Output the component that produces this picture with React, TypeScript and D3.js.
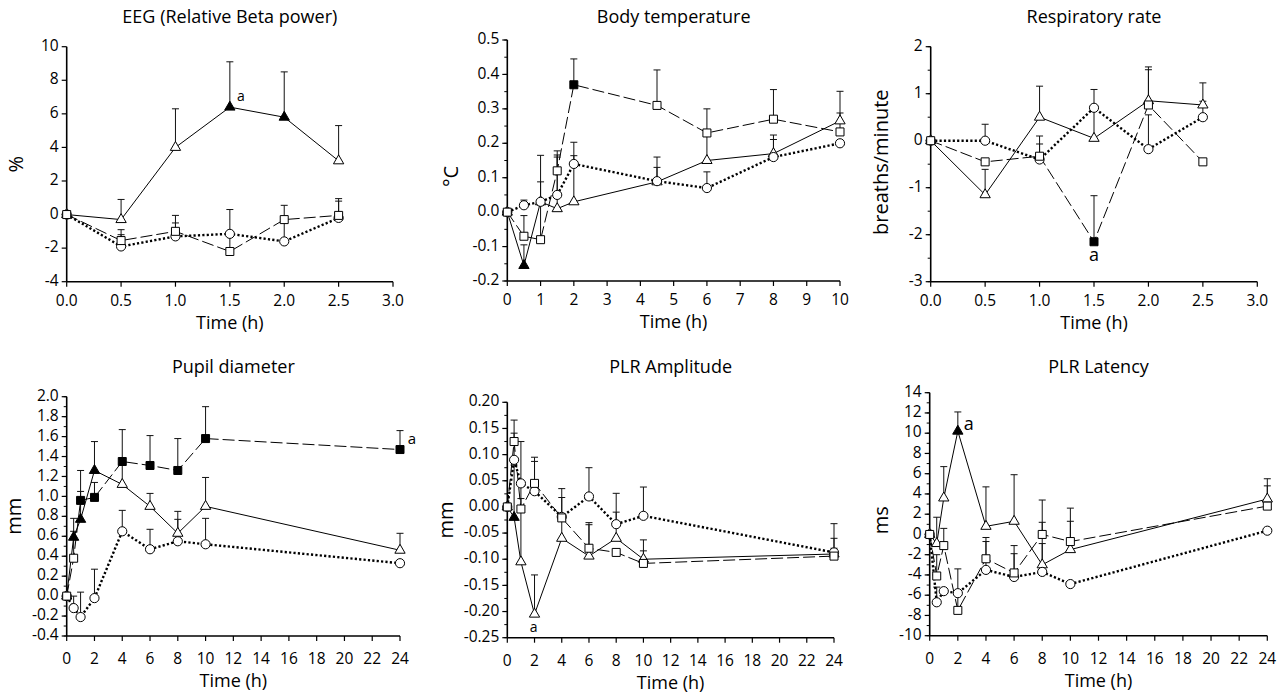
import React from "react";
import * as d3 from "d3";

const FONT = "'Open Sans', 'Noto Sans', sans-serif";

// time points (h)
const tShort = [0, 0.5, 1, 1.5, 2, 2.5];
const tTemp = [0, 0.5, 1, 1.5, 2, 4.5, 6, 8, 10];
const tLong = [0, 0.5, 1, 2, 4, 6, 8, 10, 24];

// EEG (Relative Beta power), %
const eegTri = [0, -0.3, 4.0, 6.4, 5.8, 3.2];
const eegTriErr = [0, 1.2, 2.3, 2.7, 2.7, 2.1];
const eegTriFill = [0, 0, 0, 1, 1, 0];
const eegSq = [0, -1.55, -1.0, -2.2, -0.3, -0.05];
const eegSqErr = [0, 0.65, 0.5, 1.1, 0.85, 1.0];
const eegSqFill = [0, 0, 0, 0, 0, 0];
const eegCirc = [0, -1.9, -1.3, -1.15, -1.6, -0.2];
const eegCircErr = [0, 0.7, 1.25, 1.45, 1.3, 1.0];
const eegCircFill = [0, 0, 0, 0, 0, 0];

// Body temperature, °C
const tempTri = [0, -0.155, 0.03, 0.01, 0.03, 0.088, 0.15, 0.17, 0.265];
const tempTriErr = [0, 0.06, 0.135, 0.15, 0.134, 0.072, 0.08, 0.054, 0.086];
const tempTriFill = [0, 1, 0, 0, 0, 0, 0, 0, 0];
const tempSq = [0, -0.07, -0.08, 0.12, 0.37, 0.31, 0.23, 0.27, 0.233];
const tempSqErr = [0, 0.06, 0.1, 0.058, 0.075, 0.103, 0.07, 0.086, 0.055];
const tempSqFill = [0, 0, 0, 0, 1, 0, 0, 0, 0];
const tempCirc = [0, 0.02, 0.03, 0.05, 0.14, 0.09, 0.07, 0.16, 0.2];
const tempCircErr = [0, 0.015, 0.058, 0.116, 0.063, 0.04, 0.047, 0.051, 0];
const tempCircFill = [0, 0, 0, 0, 0, 0, 0, 0, 0];

// Respiratory rate, breaths/minute
const respTri = [0, -1.15, 0.5, 0.05, 0.85, 0.76];
const respTriErr = [0, 0.54, 0.66, 0.6, 0.72, 0.08];
const respTriFill = [0, 0, 0, 0, 0, 0];
const respSq = [0, -0.45, -0.33, -2.15, 0.76, -0.45];
const respSqErr = [0, 0, 0.43, 0.98, 0.75, 0];
const respSqFill = [0, 0, 0, 1, 0, 0];
const respCirc = [0, 0, -0.4, 0.7, -0.18, 0.5];
const respCircErr = [0, 0.35, 0.33, 0.39, 0.73, 0.73];
const respCircFill = [0, 0, 0, 0, 0, 0];

// Pupil diameter, mm
const pupTri = [0, 0.59, 0.77, 1.26, 1.12, 0.9, 0.63, 0.9, 0.46];
const pupTriErr = [0, 0.19, 0.28, 0.29, 0.2, 0.13, 0.22, 0.29, 0.17];
const pupTriFill = [0, 1, 1, 1, 0, 0, 0, 0, 0];
const pupSq = [0, 0.38, 0.96, 0.99, 1.35, 1.31, 1.26, 1.58, 1.47];
const pupSqErr = [0, 0.27, 0.3, 0.15, 0.32, 0.3, 0.32, 0.32, 0.19];
const pupSqFill = [0, 0, 1, 1, 1, 1, 1, 1, 1];
const pupCirc = [0, -0.12, -0.21, -0.02, 0.65, 0.47, 0.55, 0.52, 0.33];
const pupCircErr = [0, 0.12, 0.25, 0.29, 0.21, 0.2, 0.22, 0.26, 0];
const pupCircFill = [0, 0, 0, 0, 0, 0, 0, 0, 0];

// PLR Amplitude, mm
const ampTri = [0, -0.02, -0.105, -0.205, -0.06, -0.094, -0.06, -0.1, -0.09];
const ampTriErr = [0, 0.1, 0.23, 0.075, 0.078, 0.06, 0.05, 0.037, 0.03];
const ampTriFill = [0, 1, 0, 0, 0, 0, 0, 0, 0];
const ampSq = [0, 0.125, -0.004, 0.045, -0.021, -0.079, -0.087, -0.108, -0.094];
const ampSqErr = [0, 0.041, 0.02, 0.05, 0.056, 0.049, 0, 0.024, 0.015];
const ampSqFill = [0, 0, 0, 0, 0, 0, 0, 0, 0];
const ampCirc = [0, 0.09, 0.045, 0.03, -0.019, 0.02, -0.033, -0.017, -0.087];
const ampCircErr = [0, 0.051, 0, 0.057, 0, 0.055, 0.059, 0.055, 0.055];
const ampCircFill = [0, 0, 0, 0, 0, 0, 0, 0, 0];

// PLR Latency, ms
const latTri = [0, -0.9, 3.6, 10.2, 0.8, 1.3, -3.0, -1.5, 3.5];
const latTriErr = [0, 2.6, 3.1, 1.9, 3.9, 4.6, 6.4, 4.1, 2.0];
const latTriFill = [0, 0, 0, 1, 0, 0, 0, 0, 0];
const latSq = [0, -4.1, -1.1, -7.5, -2.4, -3.8, 0, -0.7, 2.8];
const latSqErr = [0, 2.1, 1.7, 1.6, 2.1, 2.7, 1.2, 2.0, 2.0];
const latSqFill = [0, 0, 0, 0, 0, 0, 0, 0, 0];
const latCirc = [0, -6.7, -5.6, -5.8, -3.5, -4.2, -3.7, -4.9, 0.37];
const latCircErr = [0, 1.5, 0, 2.4, 2.8, 2.3, 2.8, 0, 0];
const latCircFill = [0, 0, 0, 0, 0, 0, 0, 0, 0];

// tick labels
const shortXTicks = [0, 0.5, 1, 1.5, 2, 2.5, 3];
const tempXTicks = [0, 1, 2, 3, 4, 5, 6, 7, 8, 9, 10];
const longXTicks = [0, 2, 4, 6, 8, 10, 12, 14, 16, 18, 20, 22, 24];
const eegYTicks = [-4, -2, 0, 2, 4, 6, 8, 10];
const tempYTicks = [-0.2, -0.1, 0, 0.1, 0.2, 0.3, 0.4, 0.5];
const respYTicks = [-3, -2, -1, 0, 1, 2];
const pupYTicks = [-0.4, -0.2, 0, 0.2, 0.4, 0.6, 0.8, 1, 1.2, 1.4, 1.6, 1.8, 2];
const ampYTicks = [-0.25, -0.2, -0.15, -0.1, -0.05, 0, 0.05, 0.1, 0.15, 0.2];
const latYTicks = [-10, -8, -6, -4, -2, 0, 2, 4, 6, 8, 10, 12, 14];

type Kind = "tri" | "sq" | "circ";
type Series = { kind: Kind; y: number[]; err: number[]; fill: number[] };

const mk = (tri: number[], triE: number[], triF: number[], circ: number[], circE: number[], circF: number[], sq: number[], sqE: number[], sqF: number[]): Series[] => [
  { kind: "tri", y: tri, err: triE, fill: triF },
  { kind: "circ", y: circ, err: circE, fill: circF },
  { kind: "sq", y: sq, err: sqE, fill: sqF },
];

const panels = [
  {
    title: "EEG (Relative Beta power)", yLabel: "%", t: tShort,
    series: mk(eegTri, eegTriErr, eegTriFill, eegCirc, eegCircErr, eegCircFill, eegSq, eegSqErr, eegSqFill),
    xDomain: [0, 3], yDomain: [-4, 10], xTicks: shortXTicks, yTicks: eegYTicks, yMinor: 0,
    xFmt: d3.format(".1f"), yFmt: d3.format("d"),
    box: { left: 66.7, right: 393, top: 46.7, bottom: 281.7 }, titleY: 18, yLabelX: 18, yLabelDy: 0, xTickDy: 20,
    note: { s: 0, i: 3, dx: 11, dy: -10, size: 14 },
  },
  {
    title: "Body temperature", yLabel: "°C", t: tTemp,
    series: mk(tempTri, tempTriErr, tempTriFill, tempCirc, tempCircErr, tempCircFill, tempSq, tempSqErr, tempSqFill),
    xDomain: [0, 10], yDomain: [-0.2, 0.5], xTicks: tempXTicks, yTicks: tempYTicks, yMinor: 0.05,
    xFmt: d3.format("d"), yFmt: d3.format(".1f"),
    box: { left: 507.3, right: 840, top: 40, bottom: 281 }, titleY: 18, yLabelX: 453, yLabelDy: 16, xTickDy: 20,
    note: null,
  },
  {
    title: "Respiratory rate", yLabel: "breaths/minute", t: tShort,
    series: mk(respTri, respTriErr, respTriFill, respCirc, respCircErr, respCircFill, respSq, respSqErr, respSqFill),
    xDomain: [0, 3], yDomain: [-3, 2], xTicks: shortXTicks, yTicks: respYTicks, yMinor: 0.5,
    xFmt: d3.format(".1f"), yFmt: d3.format("d"),
    box: { left: 930.7, right: 1257.3, top: 46.7, bottom: 281.7 }, titleY: 18, yLabelX: 883, yLabelDy: -2, xTickDy: 20,
    note: { s: 2, i: 3, dx: 0, dy: 14, size: 18 },
  },
  {
    title: "Pupil diameter", yLabel: "mm", t: tLong,
    series: mk(pupTri, pupTriErr, pupTriFill, pupCirc, pupCircErr, pupCircFill, pupSq, pupSqErr, pupSqFill),
    xDomain: [0, 24], yDomain: [-0.4, 2], xTicks: longXTicks, yTicks: pupYTicks, yMinor: 0.1,
    xFmt: d3.format("d"), yFmt: d3.format(".1f"),
    box: { left: 66.7, right: 400, top: 396.7, bottom: 636 }, titleY: 368, yLabelX: 16, yLabelDy: 0, xTickDy: 24,
    note: { s: 2, i: 8, dx: 12, dy: -10, size: 15 },
  },
  {
    title: "PLR Amplitude", yLabel: "mm", t: tLong,
    series: mk(ampTri, ampTriErr, ampTriFill, ampCirc, ampCircErr, ampCircFill, ampSq, ampSqErr, ampSqFill),
    xDomain: [0, 24], yDomain: [-0.25, 0.2], xTicks: longXTicks, yTicks: ampYTicks, yMinor: 0.025,
    xFmt: d3.format("d"), yFmt: d3.format(".2f"),
    box: { left: 507.3, right: 834, top: 402.3, bottom: 637.7 }, titleY: 368, yLabelX: 448, yLabelDy: 0, xTickDy: 24,
    note: { s: 0, i: 3, dx: -1, dy: 14, size: 14 },
  },
  {
    title: "PLR Latency", yLabel: "ms", t: tLong,
    series: mk(latTri, latTriErr, latTriFill, latCirc, latCircErr, latCircFill, latSq, latSqErr, latSqFill),
    xDomain: [0, 24], yDomain: [-10, 14], xTicks: longXTicks, yTicks: latYTicks, yMinor: 1,
    xFmt: d3.format("d"), yFmt: d3.format("d"),
    box: { left: 929.7, right: 1267.3, top: 392.7, bottom: 635.7 }, titleY: 368, yLabelX: 883, yLabelDy: 6, xTickDy: 24,
    note: { s: 0, i: 3, dx: 11, dy: -6, size: 18 },
  },
];

const symbols: Record<Kind, string> = {
  tri: d3.symbol().type(d3.symbolTriangle).size(46)() as string,
  sq: d3.symbol().type(d3.symbolSquare).size(64)() as string,
  circ: d3.symbol().type(d3.symbolCircle).size(66)() as string,
};

const lineStyle: Record<Kind, { width: number; dash?: string }> = {
  tri: { width: 1 },
  sq: { width: 1, dash: "12,4" },
  circ: { width: 2.4, dash: "2.2,2.2" },
};

const fmtMinus = (s: string) => s.replace("−", "-");

function Panel({ p }: { p: any }) {
  const { box } = p;
  const x = d3.scaleLinear().domain(p.xDomain).range([box.left, box.right]);
  const y = d3.scaleLinear().domain(p.yDomain).range([box.bottom, box.top]);
  const line = d3.line<number>().x((_, i) => x(p.t[i])).y((v) => y(v));
  const midX = (box.left + box.right) / 2;
  const midY = (box.top + box.bottom) / 2;
  const minor = p.yMinor
    ? d3.range(Math.round((p.yDomain[1] - p.yDomain[0]) / p.yMinor) + 1).map((k) => p.yDomain[0] + k * p.yMinor)
    : [];
  const note = p.note;

  return (
    <g fontFamily={FONT} fill="#000">
      <text x={midX} y={p.titleY} textAnchor="middle" dominantBaseline="middle" fontSize={18}>
        {p.title}
      </text>
      <text
        transform={`translate(${p.yLabelX},${midY + p.yLabelDy}) rotate(-90)`}
        textAnchor="middle" dominantBaseline="middle" fontSize={20}
      >
        {p.yLabel}
      </text>
      <text x={midX} y={box.bottom + p.xTickDy + 22} textAnchor="middle" dominantBaseline="middle" fontSize={18}>
        Time (h)
      </text>

      {/* axes */}
      <line x1={box.left} x2={box.left} y1={box.top} y2={box.bottom} stroke="#000" strokeWidth={1.6} />
      <line x1={box.left} x2={box.right} y1={box.bottom} y2={box.bottom} stroke="#000" strokeWidth={1.6} />
      {minor.map((v: number, i: number) => (
        <line key={"m" + i} x1={box.left - 3} x2={box.left} y1={y(v)} y2={y(v)} stroke="#000" strokeWidth={1} />
      ))}
      {p.yTicks.map((v: number) => (
        <g key={"y" + v}>
          <line x1={box.left - 5} x2={box.left} y1={y(v)} y2={y(v)} stroke="#000" strokeWidth={1.2} />
          <text x={box.left - 8} y={y(v)} textAnchor="end" dominantBaseline="middle" fontSize={15.5}>
            {fmtMinus(p.yFmt(v))}
          </text>
        </g>
      ))}
      {p.xTicks.map((v: number) => (
        <g key={"x" + v}>
          <line x1={x(v)} x2={x(v)} y1={box.bottom} y2={box.bottom + 5} stroke="#000" strokeWidth={1.2} />
          <text x={x(v)} y={box.bottom + p.xTickDy} textAnchor="middle" dominantBaseline="middle" fontSize={15.5}>
            {fmtMinus(p.xFmt(v))}
          </text>
        </g>
      ))}

      {/* error bars (upper only) */}
      {p.series.map((s: Series) =>
        s.y.map((v, i) =>
          s.err[i] > 0 ? (
            <g key={s.kind + "e" + i} stroke="#111" strokeWidth={1}>
              <line x1={x(p.t[i])} x2={x(p.t[i])} y1={y(v)} y2={y(v + s.err[i])} />
              <line x1={x(p.t[i]) - 3.5} x2={x(p.t[i]) + 3.5} y1={y(v + s.err[i])} y2={y(v + s.err[i])} />
            </g>
          ) : null
        )
      )}

      {/* lines */}
      {p.series.map((s: Series) => (
        <path
          key={s.kind + "l"}
          d={line(s.y) as string}
          fill="none"
          stroke="#000"
          strokeWidth={lineStyle[s.kind].width}
          strokeDasharray={lineStyle[s.kind].dash}
        />
      ))}

      {/* markers */}
      {p.series.map((s: Series) =>
        s.y.map((v, i) => (
          <path
            key={s.kind + "p" + i}
            d={symbols[s.kind]}
            transform={`translate(${x(p.t[i])},${y(v)})`}
            fill={s.fill[i] ? "#000" : "#fff"}
            stroke="#000"
            strokeWidth={1}
          />
        ))
      )}

      {note && (
        <text
          x={x(p.t[note.i]) + note.dx}
          y={y(p.series[note.s].y[note.i]) + note.dy}
          textAnchor="middle"
          dominantBaseline="middle"
          fontSize={note.size}
        >
          a
        </text>
      )}
    </g>
  );
}

export default function App() {
  return (
    <svg
      width={1288}
      height={698}
      style={{ position: "absolute", left: 0, top: 0, background: "#fff" }}
    >
      {panels.map((p, i) => (
        <Panel key={i} p={p} />
      ))}
    </svg>
  );
}
